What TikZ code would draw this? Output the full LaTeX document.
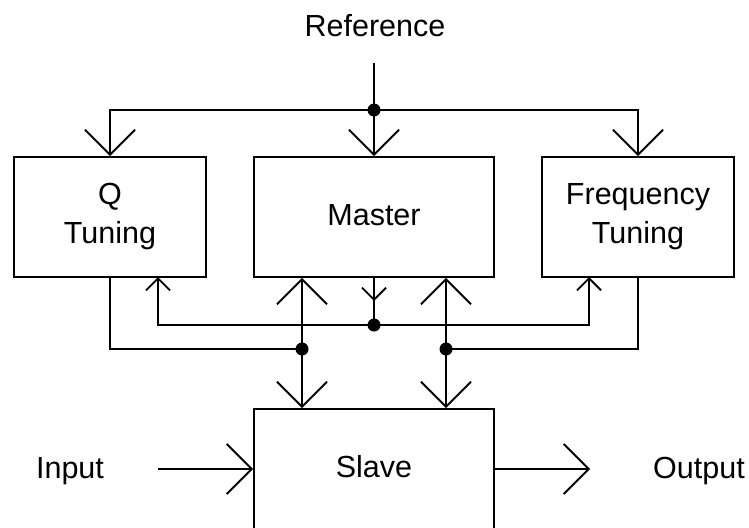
\documentclass[tikz,border=0pt]{standalone}
\usepackage{fontspec}
\setmainfont{Liberation Sans}
\usetikzlibrary{arrows.meta}
\begin{document}
\begin{tikzpicture}[x=1pt,y=-1pt,line width=1.9pt,
  box/.style={draw, line width=1.9pt, minimum height=120pt, inner sep=0pt, align=center, font=\fontsize{30.5}{39}\selectfont},
  lbl/.style={font=\fontsize{30.5}{39}\selectfont, inner sep=0pt},
  dotnode/.style={circle, fill, inner sep=0pt, minimum size=13pt},
  big/.style={-{Straight Barb[length=25pt,width=50pt]}},
  small/.style={-{Straight Barb[length=12pt,width=24pt]}}]
\useasboundingbox (0,0) rectangle (749,527);
\clip (0,0) rectangle (749,527);
% boxes
\node[box, minimum width=192pt] (q) at (110,217) {Q\\Tuning};
\node[box, minimum width=240pt, text height=22pt, text depth=6pt] (m) at (374,217) {Master};
\node[box, minimum width=192pt] (f) at (638,217) {Frequency\\Tuning};
\node[box, minimum width=240pt, text height=22pt, text depth=6pt] (s) at (374,469) {Slave};
% labels
\node[lbl, anchor=base] (ref) at (375,37) {Reference};
\node[lbl, anchor=base] (in) at (70,478) {Input};
\node[lbl, anchor=base] (out) at (699,478) {Output};
% junctions and free ends
\coordinate (reftop) at (374,63);
\node[dotnode] (rd) at (374,110) {};
\node[dotnode] (md) at (374,325) {};
\node[dotnode] (ld) at (302,349) {};
\node[dotnode] (rdd) at (446,349) {};
\coordinate (mtip) at (374,301);
\coordinate (qin) at (158,277);
\coordinate (fin) at (589,277);
\coordinate (inl) at (158,469);
\coordinate (outr) at (590,469);
% connectors
\draw[big] (reftop) -- (m.north);
\draw[big] (rd.center) -| (q.north);
\draw[big] (rd.center) -| (f.north);
\draw (m.south) -- (md.center);
\draw[small] (m.south) -- (mtip);
\draw[small] (md.center) -| (qin);
\draw[small] (md.center) -| (fin);
\draw (q.south) |- (ld.center);
\draw (f.south) |- (rdd.center);
\draw[big] (ld.center) -- (ld.center |- m.south);
\draw[big] (ld.center) -- (ld.center |- s.north);
\draw[big] (rdd.center) -- (rdd.center |- m.south);
\draw[big] (rdd.center) -- (rdd.center |- s.north);
\draw[big] (inl) -- (s.west);
\draw[big] (s.east) -- (outr);
\end{tikzpicture}
\end{document}
